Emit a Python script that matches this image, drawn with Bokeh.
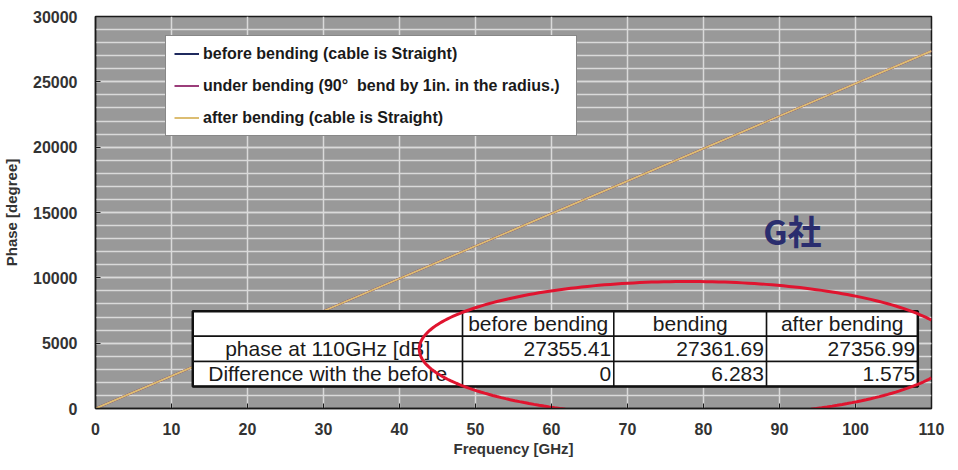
import numpy as np
from bokeh.plotting import figure
from bokeh.models import Range1d, FixedTicker, Legend, LegendItem
from bokeh.core.properties import value
from bokeh.embed import file_html
from bokeh.resources import INLINE

# ---------------- data ----------------
freq_ghz = [0, 110]
phase_before = [0, 27355.41]
phase_under = [0, 27361.69]
phase_after = [0, 27356.99]

series_labels = [
    "before bending (cable is Straight)",
    "under bending (90°  bend by 1in. in the radius.)",
    "after bending (cable is Straight)",
]
series_colors = ["#1f2a5e", "#9b3d7a", "#dcbd72"]

table_header = ["", "before bending", "bending", "after bending"]
table_row_labels = ["phase at 110GHz [dB]", "Difference with the before"]
table_phase = ["27355.41", "27361.69", "27356.99"]
table_diff = ["0", "6.283", "1.575"]

x_ticks = list(range(0, 111, 10))
y_ticks = list(range(0, 30001, 5000))
y_minor = list(range(0, 30001, 1000))

# ---------------- layout constants (positions, not data) ----------------
X_MIN, X_MAX = 0, 110
Y_MIN, Y_MAX = 0, 30000
col_edges = [12.8, 48.3, 68.2, 88.3, 108.2]
row_edges = [7446, 5533, 3597, 1684]
ELL_CX, ELL_CY, ELL_RX, ELL_RY = 78.0, 4550, 35.4, 5170
BRAND_X, BRAND_Y = 91.7, 13620

FONT = "Liberation Sans"

p = figure(frame_width=836, frame_height=392,
           x_range=Range1d(X_MIN, X_MAX), y_range=Range1d(Y_MIN, Y_MAX),
           output_backend="svg", toolbar_location=None,
           min_border_left=92, min_border_right=14,
           min_border_top=16, min_border_bottom=46,
           background_fill_color="#999999",
           border_fill_color="white",
           outline_line_color="#1a1a1a", outline_line_width=1.5)

p.xaxis.ticker = FixedTicker(ticks=x_ticks)
p.yaxis.ticker = FixedTicker(ticks=y_ticks, minor_ticks=y_minor)
p.xgrid.ticker = FixedTicker(ticks=x_ticks)
p.ygrid.ticker = FixedTicker(ticks=y_ticks, minor_ticks=y_minor)

for g in (p.xgrid, p.ygrid):
    g.grid_line_color = "#dadada"
    g.grid_line_width = 1.5
p.ygrid.minor_grid_line_color = "#dadada"
p.ygrid.minor_grid_line_width = 1.5

for ax in (p.xaxis, p.yaxis):
    ax.axis_line_color = "#1a1a1a"
    ax.axis_line_width = 1.5
    ax.major_tick_in = 5
    ax.major_tick_out = 0
    ax.major_tick_line_color = "#1a1a1a"
    ax.minor_tick_line_color = None
    ax.major_label_text_font = FONT
    ax.major_label_text_font_size = "16px"
    ax.major_label_text_font_style = "bold"
    ax.major_label_text_color = "#333333"
    ax.axis_label_text_font = FONT
    ax.axis_label_text_font_size = "15px"
    ax.axis_label_text_font_style = "bold"
    ax.axis_label_text_color = "#333333"

p.xaxis.axis_label = "Frequency [GHz]"
p.yaxis.axis_label = "Phase [degree]"
p.xaxis.major_label_standoff = 14
p.xaxis.axis_label_standoff = 2
p.yaxis.major_label_standoff = 14
p.yaxis.axis_label_standoff = 10

# ---------------- lines ----------------
renderers = []
for ys, col in zip([phase_before, phase_under, phase_after], series_colors):
    r = p.line(freq_ghz, ys, line_color=col, line_width=2)
    renderers.append(r)

legend = Legend(items=[LegendItem(label=lab, renderers=[r]) for lab, r in zip(series_labels, renderers)],
                location=(70, 272), margin=0, padding=8, spacing=13,
                label_height=19, glyph_height=19, glyph_width=25, label_standoff=4,
                label_width=365,
                label_text_font=FONT, label_text_font_size="16px",
                label_text_font_style="bold", label_text_color="#1a1a1a",
                background_fill_color="white", background_fill_alpha=1.0,
                border_line_color="#111111", border_line_width=1.5)
p.add_layout(legend)

# ---------------- table ----------------
lefts, rights, tops, bottoms = [], [], [], []
for ri in range(3):
    for ci in range(4):
        lefts.append(col_edges[ci]); rights.append(col_edges[ci + 1])
        tops.append(row_edges[ri]); bottoms.append(row_edges[ri + 1])
p.quad(left=lefts, right=rights, top=tops, bottom=bottoms,
       fill_color="white", line_color="#111111", line_width=1.5)
p.quad(left=[col_edges[0]], right=[col_edges[-1]], top=[row_edges[0]], bottom=[row_edges[-1]],
       fill_color=None, line_color="#111111", line_width=2.5)

TFS = "21px"
hx = [(col_edges[c] + col_edges[c + 1]) / 2 for c in range(1, 4)]
hy = [(row_edges[0] + row_edges[1]) / 2] * 3
p.text(x=hx, y=hy, text=table_header[1:], text_align="center", text_baseline="middle",
       text_font=value(FONT), text_font_size=TFS, text_color="#1a1a1a")

lx = [(col_edges[0] + col_edges[1]) / 2] * 2
ly = [(row_edges[1] + row_edges[2]) / 2, (row_edges[2] + row_edges[3]) / 2]
p.text(x=lx, y=ly, text=table_row_labels, text_align="center", text_baseline="middle",
       text_font=value(FONT), text_font_size=TFS, text_color="#1a1a1a")

nx = [col_edges[c + 1] - 0.35 for c in range(1, 4)]
p.text(x=nx, y=[ly[0]] * 3, text=table_phase, text_align="right", text_baseline="middle",
       text_font=value(FONT), text_font_size=TFS, text_color="#1a1a1a")
p.text(x=nx, y=[ly[1]] * 3, text=table_diff, text_align="right", text_baseline="middle",
       text_font=value(FONT), text_font_size=TFS, text_color="#1a1a1a")

# brand label
p.text(x=[BRAND_X], y=[BRAND_Y], text=["G社"], text_align="center", text_baseline="middle",
       text_font=value("Noto Sans CJK JP"), text_font_size="34px", text_font_style="bold",
       text_color="#2a2d6e")

# red ellipse (open arc, kept inside the frame on the right)
t0 = float(np.arccos(min(1.0, (X_MAX - ELL_CX) / ELL_RX)))
t = np.linspace(t0, 2 * np.pi - t0, 240)
ell_x = (ELL_CX + ELL_RX * np.cos(t)).tolist()
ell_y = np.maximum(ELL_CY + ELL_RY * np.sin(t), Y_MIN - 300).tolist()
p.line(ell_x, ell_y, line_color="#e0142f", line_width=3)

open("out.html", "w").write(file_html(p, INLINE))
